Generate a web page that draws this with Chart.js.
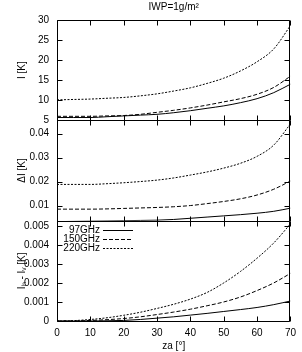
<!DOCTYPE html>
<html>
<head>
<meta charset="utf-8">
<script src="https://cdn.jsdelivr.net/npm/chart.js@4.4.1/dist/chart.umd.min.js"></script>
<style>
  html, body { margin: 0; padding: 0; background: #fff; }
  canvas { display: block; }
</style>
</head>
<body>
<canvas id="grafico" width="302" height="352"></canvas>
<script>
// angulo zenital (graus)
const za = [0, 5, 10, 15, 20, 25, 30, 35, 40, 45, 50, 55, 60, 65, 70];
const freqs = ['97GHz', '150GHz', '220GHz'];

// painel 1: I [K]
const i97  = [5.7, 5.7, 5.7, 5.9, 6.1, 6.3, 6.5, 6.9, 7.4, 8.0, 8.6, 9.4, 10.4, 11.9, 14.0];
const i150 = [6.0, 6.0, 6.0, 6.1, 6.2, 6.5, 7.0, 7.5, 8.1, 8.8, 9.6, 10.4, 11.5, 13.2, 16.0];
const i220 = [10.1, 10.2, 10.3, 10.5, 10.7, 11.1, 11.6, 12.3, 13.1, 14.2, 15.5, 17.3, 19.6, 22.8, 28.6];

// painel 2: delta I [K]
const d97  = [0.0033, 0.0034, 0.0035, 0.0036, 0.0037, 0.0038, 0.0039, 0.0042, 0.0047, 0.0052, 0.0057, 0.0062, 0.0068, 0.0076, 0.0089];
const d150 = [0.0085, 0.0085, 0.0085, 0.0086, 0.0088, 0.0090, 0.0092, 0.0095, 0.0100, 0.0108, 0.0117, 0.0128, 0.0144, 0.0168, 0.0202];
const d220 = [0.0188, 0.0188, 0.0188, 0.0191, 0.0195, 0.0200, 0.0206, 0.0215, 0.0227, 0.0240, 0.0256, 0.0276, 0.0305, 0.0352, 0.0440];

// painel 3: Ih - Iv [K]
const p97  = [0, 0, 0, 0.00001, 0.00003, 0.00008, 0.00015, 0.00022, 0.00031, 0.0004, 0.0005, 0.0006, 0.00071, 0.00086, 0.00105];
const p150 = [0, 0, 0.00003, 0.00007, 0.00013, 0.00022, 0.00034, 0.00047, 0.00062, 0.0008, 0.001, 0.00126, 0.0016, 0.002, 0.0025];
const p220 = [0, 0.00002, 0.00008, 0.00017, 0.0003, 0.00046, 0.00066, 0.00088, 0.00115, 0.0015, 0.002, 0.0026, 0.0033, 0.0041, 0.0051];

// marcas dos eixos
const xTicks = [0, 10, 20, 30, 40, 50, 60, 70];
const iTicks = [5, 10, 15, 20, 25, 30];
const dTicks = [0.01, 0.02, 0.03, 0.04];
const pTicks = [0, 0.001, 0.002, 0.003, 0.004, 0.005];

const FONTE = { family: '"Liberation Sans", Arial, sans-serif', size: 10 };
const tracos = [[], [4, 2], [2, 1.5]];

function serie(arr, i, eixo) {
    return {
        label: freqs[i],
        data: za.map((z, k) => ({ x: z, y: arr[k] })),
        yAxisID: eixo,
        borderColor: '#000',
        borderWidth: 1,
        borderDash: tracos[i],
        pointRadius: 0,
        cubicInterpolationMode: 'monotone',
        fill: false
    };
}

function eixoY(ticks, titulo, min, max, peso) {
    return {
        type: 'linear', position: 'left', stack: 'paineis', stackWeight: 1, weight: peso,
        min: min, max: max,
        afterBuildTicks: s => { s.ticks = ticks.map(v => ({ value: v })); },
        afterFit: s => { s.width = 57; },
        grid: { display: false, drawTicks: false },
        border: { display: false },
        ticks: { color: '#000', font: FONTE, padding: 8, autoSkip: false, callback: v => String(v) },
        title: { display: true, text: titulo, color: '#000', font: FONTE, padding: { top: 16, bottom: 0 } }
    };
}

// moldura, marcas internas e legenda dentro do painel de baixo
const molduraPlugin = {
    id: 'moldura',
    afterDatasetsDraw(chart) {
        const ctx = chart.ctx;
        const sx = chart.scales.x;
        const L = Math.round(chart.chartArea.left) + 0.5;
        const R = Math.round(chart.chartArea.right) - 0.5;
        ctx.save();
        ctx.strokeStyle = '#000';
        ctx.lineWidth = 1;
        ctx.beginPath();
        [['yI', iTicks], ['yD', dTicks], ['yP', pTicks]].forEach(([id, tk]) => {
            const s = chart.scales[id];
            const T = Math.round(s.top) + 0.5;
            const B = Math.round(s.bottom) + 0.5;
            ctx.rect(L, T, R - L, B - T);
            xTicks.forEach(v => {
                const px = Math.round(sx.getPixelForValue(v)) + 0.5;
                ctx.moveTo(px, T); ctx.lineTo(px, T + 5);
                ctx.moveTo(px, B); ctx.lineTo(px, B - 5);
            });
            tk.forEach(v => {
                const py = Math.round(s.getPixelForValue(v)) + 0.5;
                if (py < T || py > B) return;
                ctx.moveTo(L, py); ctx.lineTo(L + 5, py);
                ctx.moveTo(R, py); ctx.lineTo(R - 5, py);
            });
        });
        ctx.stroke();

        const sp = chart.scales.yP;
        ctx.font = FONTE.size + 'px ' + FONTE.family;
        ctx.fillStyle = '#000';
        ctx.textAlign = 'right';
        ctx.textBaseline = 'middle';
        freqs.forEach((f, i) => {
            const y = Math.round(sp.top + 9 + i * 9) + 0.5;
            ctx.fillText(f, 100, y);
            ctx.setLineDash(tracos[i]);
            ctx.beginPath();
            ctx.moveTo(103, y); ctx.lineTo(133, y);
            ctx.stroke();
        });
        ctx.restore();
    }
};

new Chart(document.getElementById('grafico').getContext('2d'), {
    type: 'line',
    data: {
        datasets: [
            serie(i97, 0, 'yI'), serie(i150, 1, 'yI'), serie(i220, 2, 'yI'),
            serie(d97, 0, 'yD'), serie(d150, 1, 'yD'), serie(d220, 2, 'yD'),
            serie(p97, 0, 'yP'), serie(p150, 1, 'yP'), serie(p220, 2, 'yP')
        ]
    },
    options: {
        responsive: false,
        animation: false,
        devicePixelRatio: 1,
        layout: { padding: { left: 0, right: 6, top: 0, bottom: 0 } },
        plugins: {
            legend: { display: false },
            tooltip: { enabled: false },
            title: {
                display: true, text: 'IWP=1g/m\u00b2', color: '#000', font: { ...FONTE, weight: 'normal' },
                fullSize: false, padding: { top: 1, bottom: 7 }
            }
        },
        scales: {
            x: {
                type: 'linear', min: 0, max: 70,
                afterBuildTicks: s => { s.ticks = xTicks.map(v => ({ value: v })); },
                afterFit: s => { s.height = 31; },
                grid: { display: false, drawTicks: false },
                border: { display: false },
                ticks: { color: '#000', font: FONTE, padding: 6, maxRotation: 0, autoSkip: false },
                title: { display: true, text: 'za [\u00b0]', color: '#000', font: FONTE, padding: { top: 0, bottom: 0 } }
            },
            yI: eixoY(iTicks, 'I [K]', 5, 30, 3),
            yD: eixoY(dTicks, '\u0394I [K]', 0.0037, 0.0455, 2),
            yP: eixoY(pTicks, 'I\u2095 - I\u1d65 [K]', 0, 0.00527, 1)
        }
    },
    plugins: [molduraPlugin]
});
</script>
</body>
</html>
